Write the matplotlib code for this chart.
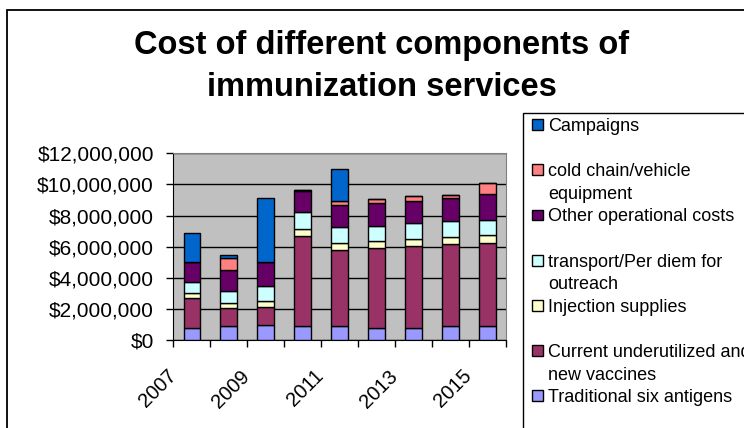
import matplotlib
matplotlib.use('Agg')
import matplotlib.pyplot as plt
from matplotlib.patches import Rectangle, Patch
from matplotlib.ticker import FuncFormatter, FixedLocator
from matplotlib.transforms import ScaledTranslation

years = [2007, 2008, 2009, 2010, 2011, 2012, 2013, 2014, 2015]
year_labels = ['2007', '', '2009', '', '2011', '', '2013', '', '2015']

# values in dollars (millions)
traditional = [0.79, 0.88, 0.96, 0.88, 0.88, 0.79, 0.79, 0.88, 0.88]
current_new = [1.88, 1.15, 1.16, 5.83, 4.93, 5.13, 5.28, 5.30, 5.38]
injection = [0.32, 0.32, 0.38, 0.45, 0.45, 0.45, 0.45, 0.44, 0.47]
transport = [0.75, 0.83, 0.98, 1.07, 0.98, 0.96, 0.98, 1.01, 0.98]
other_ops = [1.26, 1.29, 1.52, 1.34, 1.44, 1.45, 1.45, 1.47, 1.69]
cold_chain = [0.00, 0.81, 0.00, 0.05, 0.25, 0.28, 0.30, 0.22, 0.71]
campaigns = [1.90, 0.19, 4.15, 0.05, 2.07, 0.00, 0.00, 0.00, 0.00]

series_names = ['Traditional six antigens',
                'Current underutilized and\nnew vaccines',
                'Injection supplies',
                'transport/Per diem for\noutreach',
                'Other operational costs',
                'cold chain/vehicle\nequipment',
                'Campaigns']
series_values = [traditional, current_new, injection, transport,
                 other_ops, cold_chain, campaigns]
series_colors = ['#9999FF', '#993366', '#FFFFCC', '#CCFFFF',
                 '#660066', '#FF8080', '#0066CC']

plt.rcParams['font.family'] = ['Liberation Sans', 'DejaVu Sans']

fig = plt.figure(figsize=(7.44, 4.28), dpi=100)
ax = fig.add_axes([0.2330, 0.2056, 0.4472, 0.4362])
ax.set_facecolor('#C0C0C0')

x = list(range(len(years)))
bottom = [0.0] * len(years)
containers = []
for vals, color in zip(series_values, series_colors):
    dollars = [v * 1e6 for v in vals]
    bc = ax.bar(x, dollars, width=0.45, bottom=bottom, color=color,
                edgecolor='black', linewidth=1, zorder=3)
    containers.append(bc)
    bottom = [b + d for b, d in zip(bottom, dollars)]

ax.set_xlim(-0.5, len(years) - 0.5)
ax.set_ylim(0, 12e6)
ax.set_yticks([0, 2e6, 4e6, 6e6, 8e6, 10e6, 12e6])
ax.yaxis.set_major_formatter(FuncFormatter(lambda v, p: '${:,.0f}'.format(v)))
ax.grid(axis='y', color='black', linewidth=1, zorder=1)
ax.tick_params(axis='y', direction='out', length=5, width=1, pad=9,
               labelsize=15)

# labels on category centres, tick marks on the boundaries
ax.set_xticks(x)
ax.set_xticklabels(year_labels, rotation=45, ha='right', va='top',
                   fontsize=14.5)
ax.tick_params(axis='x', which='major', length=0, pad=19)
ax.xaxis.set_minor_locator(FixedLocator([i - 0.5 for i in range(len(years) + 1)]))
ax.tick_params(axis='x', which='minor', direction='out', length=5, width=1)
shift = ScaledTranslation(-12 / 100, 0, fig.dpi_scale_trans)
for lab in ax.get_xticklabels():
    lab.set_transform(lab.get_transform() + shift)

for side in ['top', 'right']:
    ax.spines[side].set_color('#808080')
for side in ['left', 'bottom']:
    ax.spines[side].set_color('black')

fig.text(381.6 / 744, 1 - 96 / 428,
         'Cost of different components of\nimmunization services',
         ha='center', va='baseline', fontsize=23.5, fontweight='bold',
         linespacing=1.46)

# legend: one row per text line, series from top of the stack down
handles, labels = [], []
blank = Patch(facecolor='none', edgecolor='none')
n = len(series_names)
for k in range(n - 1, -1, -1):
    lines = series_names[k].split('\n')
    if len(lines) < 2 and k > 0:
        lines.append(' ')
    for j, line in enumerate(lines):
        handles.append(containers[k] if j == 0 else blank)
        labels.append(line)

leg = ax.legend(handles, labels, loc='upper left',
                bbox_to_anchor=(532 / 744, 1 - 118 / 428),
                bbox_transform=fig.transFigure, frameon=False, fontsize=13,
                handlelength=0.6, handleheight=0.55, handletextpad=0.3,
                labelspacing=0.31, borderpad=0, borderaxespad=0)

# chart frame and legend box
fig.add_artist(Rectangle((7 / 744, -0.1), 1.2, 1.1 - 10 / 428,
                         transform=fig.transFigure, fill=False,
                         edgecolor='black', linewidth=1.3, clip_on=False))
fig.add_artist(Rectangle((522.5 / 744, -0.1), 0.5, 0.1 + 1 - 113 / 428,
                         transform=fig.transFigure, fill=False,
                         edgecolor='black', linewidth=1.0, clip_on=False))

fig.savefig('out.png', dpi=100)
